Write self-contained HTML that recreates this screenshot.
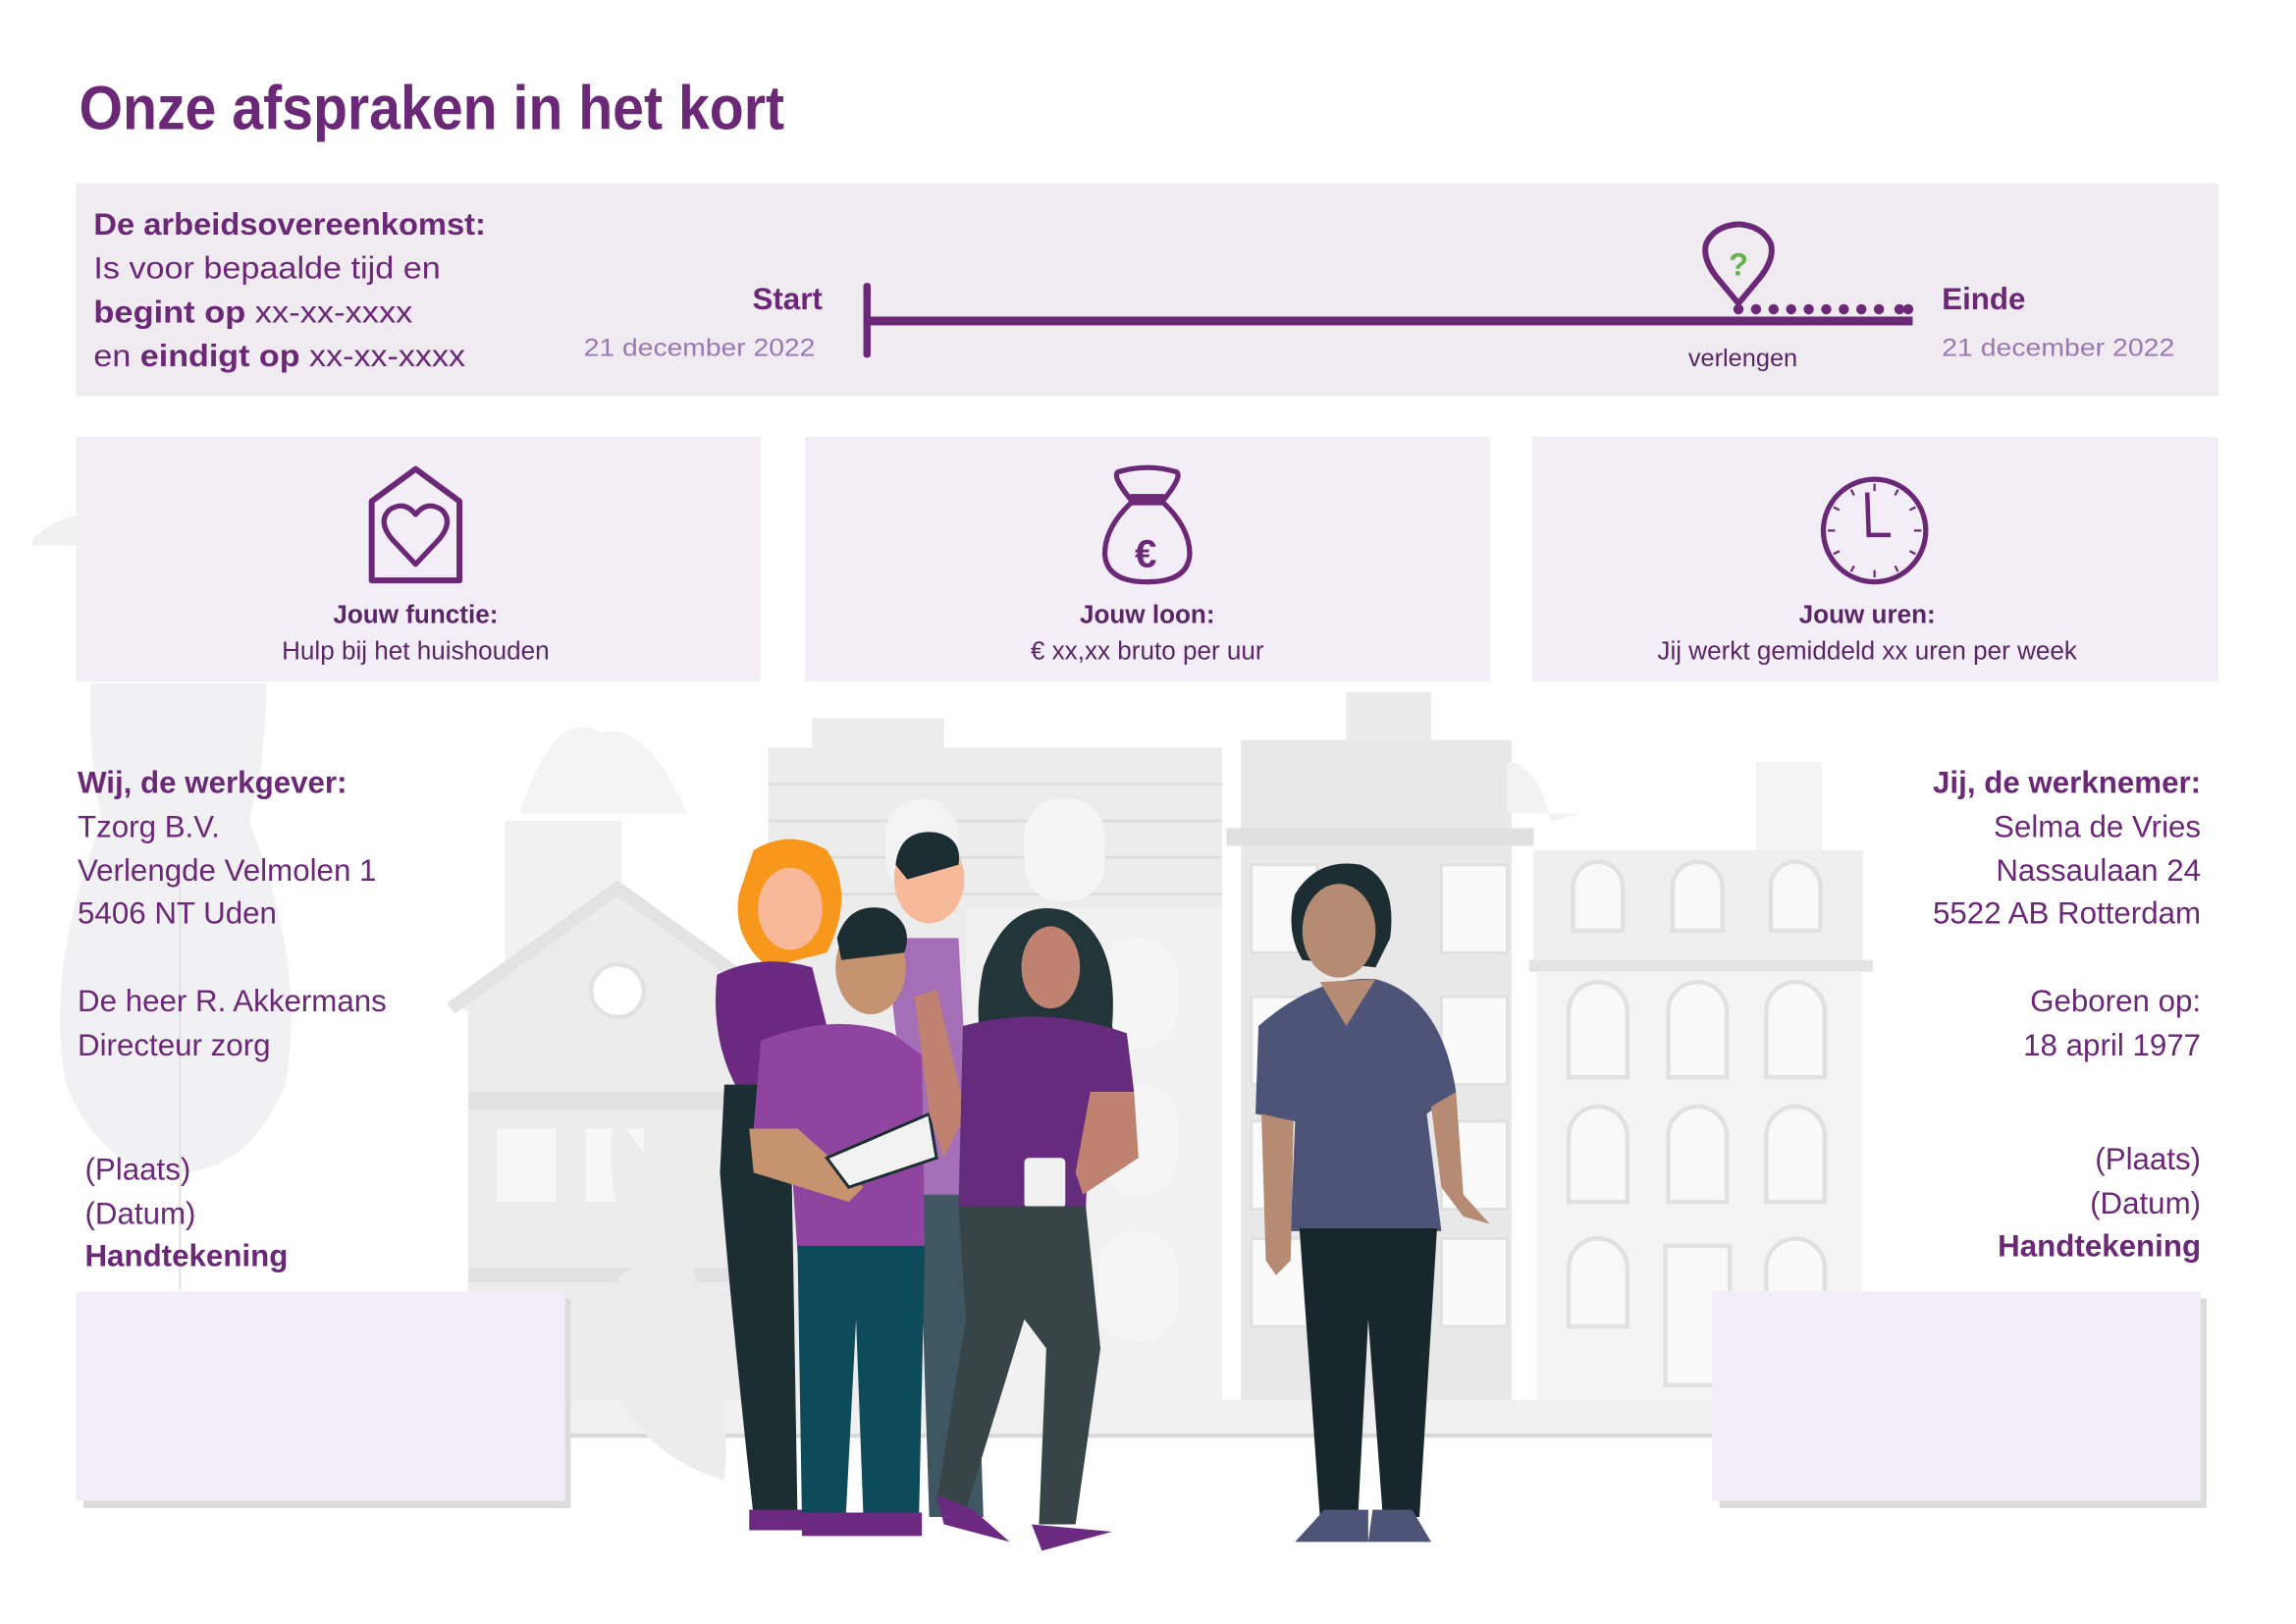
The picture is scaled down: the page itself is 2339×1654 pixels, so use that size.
<!DOCTYPE html>
<html><head><meta charset="utf-8"><style>
html,body{margin:0;padding:0;background:#fff;}
svg{display:block;}
text{font-family:"Liberation Sans",Arial,sans-serif;}
</style></head><body>
<svg width="2339" height="1654" viewBox="0 0 1569 1108" preserveAspectRatio="none" xmlns="http://www.w3.org/2000/svg">
<g>
  <path d="M22 368 Q40 350 60 352 L60 372 L22 372Z" fill="#f1f1f2"/>
  <path d="M62 466 L182 466 Q182 520 170 560 Q210 660 195 740 Q170 800 120 800 Q70 800 45 740 Q30 660 70 560 Q60 520 62 466Z" fill="#f1f1f3"/>
  <line x1="123" y1="600" x2="123" y2="880" stroke="#e2e2e4" stroke-width="1.5"/>
  <path d="M355 555 Q380 480 410 500 Q440 490 470 555Z" fill="#f4f4f4"/>
  <rect x="345" y="560" width="80" height="140" fill="#f1f1f1"/>
  <path d="M310 685 L422 608 L530 685 L530 980 L320 980 L320 690Z" fill="#ececec"/>
  <path d="M308 688 L422 606 L536 688" fill="none" stroke="#e3e3e3" stroke-width="9"/>
  <circle cx="422" cy="676" r="18" fill="#fff"/><circle cx="422" cy="676" r="18" fill="none" stroke="#e2e2e2" stroke-width="3"/>
  <rect x="320" y="745" width="210" height="12" fill="#e2e2e2"/>
  <rect x="340" y="770" width="40" height="50" fill="#f7f7f7"/><rect x="400" y="770" width="40" height="50" fill="#f7f7f7"/>
  <rect x="320" y="865" width="200" height="10" fill="#e2e2e2"/>
  <rect x="525" y="510" width="310" height="470" fill="#ececec"/>
  <rect x="555" y="490" width="90" height="25" fill="#ececec"/>
  <g stroke="#dedede" stroke-width="2">
   <line x1="525" y1="535" x2="835" y2="535"/><line x1="525" y1="560" x2="835" y2="560"/><line x1="525" y1="585" x2="835" y2="585"/><line x1="525" y1="610" x2="835" y2="610"/>
  </g>
  <rect x="700" y="545" width="55" height="70" rx="25" fill="#f5f5f5"/>
  <rect x="605" y="545" width="50" height="65" rx="24" fill="#f3f3f3"/>
  <rect x="750" y="640" width="55" height="75" rx="26" fill="#f6f6f6"/>
  <rect x="750" y="740" width="55" height="75" rx="26" fill="#f6f6f6"/>
  <rect x="750" y="840" width="55" height="75" rx="26" fill="#f6f6f6"/>
  <rect x="660" y="620" width="175" height="360" fill="#f5f5f5" opacity=".6"/>
  <rect x="848" y="505" width="185" height="475" fill="#e8e8e8"/>
  <rect x="920" y="472" width="58" height="35" fill="#ebebeb"/>
  <rect x="838" y="565" width="210" height="12" fill="#e0e0e0"/>
  <g fill="#fafafa" stroke="#e0e0e0" stroke-width="2">
   <rect x="855" y="590" width="45" height="60"/><rect x="985" y="590" width="45" height="60"/>
   <rect x="855" y="680" width="45" height="60"/><rect x="985" y="680" width="45" height="60"/>
   <rect x="855" y="765" width="45" height="60"/><rect x="985" y="765" width="45" height="60"/>
   <rect x="855" y="845" width="45" height="60"/><rect x="985" y="845" width="45" height="60"/>
  </g>
  <path d="M1030 520 Q1050 520 1060 560 L1080 555 L1030 555Z" fill="#f2f2f2"/>
  <rect x="1200" y="520" width="45" height="60" fill="#f3f3f3"/>
  <rect x="1048" y="580" width="225" height="80" fill="#efefef"/>
  <rect x="1045" y="655" width="235" height="8" fill="#e4e4e4"/>
  <rect x="1050" y="663" width="222" height="317" fill="#f4f4f4"/>
  <g fill="#f9f9f9" stroke="#e1e1e1" stroke-width="3">
   <path d="M1075 635 V605 a17 17 0 0 1 34 0 V635Z"/><path d="M1143 635 V605 a17 17 0 0 1 34 0 V635Z"/><path d="M1210 635 V605 a17 17 0 0 1 34 0 V635Z"/>
   <path d="M1072 735 V690 a20 20 0 0 1 40 0 V735Z"/><path d="M1140 735 V690 a20 20 0 0 1 40 0 V735Z"/><path d="M1207 735 V690 a20 20 0 0 1 40 0 V735Z"/>
   <path d="M1072 820 V775 a20 20 0 0 1 40 0 V820Z"/><path d="M1140 820 V775 a20 20 0 0 1 40 0 V820Z"/><path d="M1207 820 V775 a20 20 0 0 1 40 0 V820Z"/>
   <path d="M1072 905 V865 a20 20 0 0 1 40 0 V905Z"/><path d="M1207 905 V865 a20 20 0 0 1 40 0 V905Z"/>
   <rect x="1138" y="850" width="44" height="95"/>
  </g>
  <rect x="385" y="955" width="785" height="25" fill="#f0f0f0"/>
  <rect x="385" y="978" width="785" height="3" fill="#d9d9d9"/>
  <path d="M420 760 Q470 820 480 900 Q500 960 495 1010 Q430 990 415 930 Q400 880 440 860 Q410 820 420 760Z" fill="#ececec"/>
</g>
<g>
  <path d="M515 580 Q540 565 565 580 Q585 610 565 650 L525 660 Q500 640 505 610Z" fill="#f7981d"/>
  <ellipse cx="540" cy="620" rx="22" ry="28" fill="#f7b99a"/>
  <path d="M490 665 Q520 650 555 660 L565 700 L540 740 L505 745 Q485 710 490 665Z" fill="#6b2a80"/>
  <path d="M495 740 L540 740 L545 1035 L515 1035 Q500 900 492 800Z" fill="#1d2e33"/>
  <rect x="512" y="1030" width="40" height="14" fill="#6b2a80"/>
  <ellipse cx="635" cy="600" rx="24" ry="30" fill="#f6b99a"/>
  <path d="M612 590 Q615 565 640 568 Q658 572 655 590 L620 600Z" fill="#1d2e33"/>
  <path d="M605 640 L655 640 L665 820 L625 820Z" fill="#a56fb8"/>
  <path d="M628 815 L665 815 L672 1035 L635 1035Z" fill="#3f5663"/>
  <ellipse cx="595" cy="660" rx="24" ry="32" fill="#c5936f"/>
  <path d="M572 640 Q580 615 605 620 Q625 630 618 650 L575 655Z" fill="#1d2e33"/>
  <path d="M520 710 Q570 690 610 705 L630 720 L632 855 Q590 870 545 855 L540 780 L515 770Z" fill="#8f45a0"/>
  <path d="M512 770 L545 770 L590 810 L580 820 L515 800Z" fill="#c5936f"/>
  <path d="M565 790 L635 760 L640 790 L580 810Z" fill="#f2f2f2" stroke="#1d2e33" stroke-width="2"/>
  <path d="M545 850 L632 850 L628 1035 L590 1035 L585 900 L578 1035 L548 1035Z" fill="#0d4a5a"/>
  <path d="M548 1032 L630 1032 L630 1048 L548 1048Z" fill="#6b2a80"/>
  <path d="M672 660 Q690 610 730 622 Q765 640 760 700 Q770 740 750 740 L690 735 Q660 720 672 660Z" fill="#22363a"/>
  <ellipse cx="718" cy="660" rx="20" ry="28" fill="#c08270"/>
  <path d="M625 680 L640 675 L660 760 L645 790 L635 760Z" fill="#c08270"/>
  <path d="M658 700 Q715 685 770 705 L775 745 L745 745 L742 825 L655 825Z" fill="#652b7c"/>
  <path d="M745 745 L775 745 L778 790 L740 815 L735 800Z" fill="#c08270"/>
  <rect x="700" y="790" width="28" height="34" rx="3" fill="#f1f1f1"/>
  <path d="M655 823 L742 823 L752 920 L735 1040 L710 1040 L715 920 L700 900 L660 1030 L640 1025 L660 900Z" fill="#374549"/>
  <path d="M705 1040 L760 1045 L712 1058Z" fill="#6b2a80"/>
  <path d="M640 1020 L665 1030 L690 1052 L645 1040Z" fill="#6b2a80"/>
  <path d="M885 610 Q900 585 930 590 Q955 600 950 640 L940 660 L890 655 Q878 635 885 610Z" fill="#1d2e33"/>
  <ellipse cx="915" cy="635" rx="25" ry="32" fill="#b58c73"/>
  <path d="M860 700 Q900 665 940 668 Q985 680 995 745 L975 760 L985 840 L882 840 L885 765 L858 760Z" fill="#4d5478"/>
  <path d="M902 670 L920 700 L940 668Z" fill="#b58c73"/>
  <path d="M862 760 L884 765 L882 860 L872 870 L865 860Z" fill="#b58c73"/>
  <path d="M978 755 L995 745 L1000 815 L1018 835 L1000 830 L985 810Z" fill="#b58c73"/>
  <path d="M888 838 L982 838 L970 1035 L945 1035 L935 900 L928 1035 L902 1035Z" fill="#17272c"/>
  <path d="M885 1052 L905 1030 L935 1030 L935 1052Z M935 1052 L938 1030 L965 1030 L978 1052Z" fill="#4d5478"/>
</g>
<text x="54" y="88" font-size="42" font-weight="bold" fill="#6b2877" textLength="482" lengthAdjust="spacingAndGlyphs">Onze afspraken in het kort</text>
<rect x="52" y="125" width="1464" height="145" fill="#efebf1"/>
<g font-size="21" fill="#6b2877">
 <text x="64" y="160" font-weight="bold" textLength="268" lengthAdjust="spacingAndGlyphs">De arbeidsovereenkomst:</text>
 <text x="64" y="190" textLength="237" lengthAdjust="spacingAndGlyphs">Is voor bepaalde tijd en</text>
 <text x="64" y="220" textLength="218" lengthAdjust="spacingAndGlyphs"><tspan font-weight="bold">begint op</tspan> xx-xx-xxxx</text>
 <text x="64" y="250" textLength="254" lengthAdjust="spacingAndGlyphs">en <tspan font-weight="bold">eindigt op</tspan> xx-xx-xxxx</text>
 <text x="562" y="211" font-weight="bold" text-anchor="end">Start</text>
 <text x="1327" y="211" font-weight="bold">Einde</text>
</g>
<g font-size="17" fill="#9a78b2">
 <text x="399" y="243" textLength="158" lengthAdjust="spacingAndGlyphs">21 december 2022</text>
 <text x="1327" y="243" textLength="159" lengthAdjust="spacingAndGlyphs">21 december 2022</text>
</g>
<text x="1191" y="250" font-size="17" fill="#5a2766" text-anchor="middle">verlengen</text>
<rect x="590" y="193" width="5" height="51" rx="2" fill="#6b2877"/>
<rect x="592" y="216" width="715" height="6" fill="#6b2877"/>
<g fill="#6b2877">
 <circle cx="1188" cy="211" r="3.5"/><circle cx="1200" cy="211" r="3.5"/><circle cx="1212" cy="211" r="3.5"/><circle cx="1224" cy="211" r="3.5"/><circle cx="1236" cy="211" r="3.5"/><circle cx="1248" cy="211" r="3.5"/><circle cx="1260" cy="211" r="3.5"/><circle cx="1272" cy="211" r="3.5"/><circle cx="1284" cy="211" r="3.5"/><circle cx="1298" cy="211" r="3.5"/><circle cx="1304" cy="211" r="3.5"/>
</g>
<path d="M1188 207 L1173 189 Q1163 176 1166 166 Q1172 154 1188 153 Q1204 154 1210 166 Q1213 176 1203 189Z" fill="none" stroke="#6b2877" stroke-width="4" stroke-linejoin="round"/>
<text x="1188" y="188" font-size="22" font-weight="bold" fill="#6ab04c" text-anchor="middle">?</text>
<rect x="52" y="298" width="468" height="167" fill="#f2edf7"/>
<rect x="550" y="298" width="468" height="167" fill="#f2edf7"/>
<rect x="1047" y="298" width="469" height="167" fill="#f2edf7"/>
<path d="M254 342 L284 320 L314 342 L314 396 L254 396Z" fill="none" stroke="#6b2877" stroke-width="4" stroke-linejoin="round"/>
<path d="M284 385 L268 368 Q258 356 266 348 Q276 341 284 351 Q292 341 302 348 Q310 356 300 368Z" fill="none" stroke="#6b2877" stroke-width="3.5" stroke-linejoin="round"/>
<path d="M772 340 Q760 325 764 322 Q784 316 804 322 Q808 325 796 340Z" fill="none" stroke="#6b2877" stroke-width="3.5" stroke-linejoin="round"/>
<rect x="771" y="337" width="26" height="6" rx="2" fill="#6b2877"/>
<path d="M773 343 Q755 360 755 378 Q756 397 784 397 Q812 397 813 378 Q813 360 795 343Z" fill="none" stroke="#6b2877" stroke-width="3.5"/>
<text x="783" y="387" font-size="27" font-weight="bold" fill="#6b2877" text-anchor="middle">€</text>
<circle cx="1281" cy="362" r="35" fill="none" stroke="#6b2877" stroke-width="3.5"/>
<path d="M1276 336 L1277 365 L1292 365" fill="none" stroke="#6b2877" stroke-width="3"/>
<g stroke="#6b2877" stroke-width="1.5">
 <line x1="1281" y1="330" x2="1281" y2="335"/><line x1="1281" y1="389" x2="1281" y2="394"/><line x1="1249" y1="362" x2="1254" y2="362"/><line x1="1308" y1="362" x2="1313" y2="362"/>
 <line x1="1297" y1="334" x2="1295" y2="338"/><line x1="1309" y1="346" x2="1305" y2="348"/><line x1="1309" y1="378" x2="1305" y2="376"/><line x1="1297" y1="390" x2="1295" y2="386"/>
 <line x1="1265" y1="390" x2="1267" y2="386"/><line x1="1253" y1="378" x2="1257" y2="376"/><line x1="1253" y1="346" x2="1257" y2="348"/><line x1="1265" y1="334" x2="1267" y2="338"/>
</g>
<g font-size="17.5" fill="#5a2766" text-anchor="middle">
 <text x="284" y="425" font-weight="bold">Jouw functie:</text>
 <text x="284" y="450">Hulp bij het huishouden</text>
 <text x="784" y="425" font-weight="bold">Jouw loon:</text>
 <text x="784" y="450">€ xx,xx bruto per uur</text>
 <text x="1276" y="425" font-weight="bold">Jouw uren:</text>
 <text x="1276" y="450">Jij werkt gemiddeld xx uren per week</text>
</g>
<g font-size="21" fill="#6b2877">
 <text x="53" y="541" font-weight="bold">Wij, de werkgever:</text>
 <text x="53" y="571">Tzorg B.V.</text>
 <text x="53" y="601">Verlengde Velmolen 1</text>
 <text x="53" y="630">5406 NT Uden</text>
 <text x="53" y="690">De heer R. Akkermans</text>
 <text x="53" y="720">Directeur zorg</text>
 <text x="58" y="805">(Plaats)</text>
 <text x="58" y="835">(Datum)</text>
 <text x="58" y="864" font-weight="bold">Handtekening</text>
</g>
<g font-size="21" fill="#6b2877" text-anchor="end">
 <text x="1504" y="541" font-weight="bold">Jij, de werknemer:</text>
 <text x="1504" y="571">Selma de Vries</text>
 <text x="1504" y="601">Nassaulaan 24</text>
 <text x="1504" y="630">5522 AB Rotterdam</text>
 <text x="1504" y="690">Geboren op:</text>
 <text x="1504" y="720">18 april 1977</text>
 <text x="1504" y="798">(Plaats)</text>
 <text x="1504" y="828">(Datum)</text>
 <text x="1504" y="857" font-weight="bold">Handtekening</text>
</g>
<rect x="57" y="886" width="333" height="143" fill="#dcdcdc"/>
<rect x="52" y="881" width="334" height="143" fill="#f2edf8"/>
<rect x="1175" y="886" width="333" height="143" fill="#dcdcdc"/>
<rect x="1170" y="881" width="334" height="143" fill="#f2edf8"/>
</svg>
</body></html>
